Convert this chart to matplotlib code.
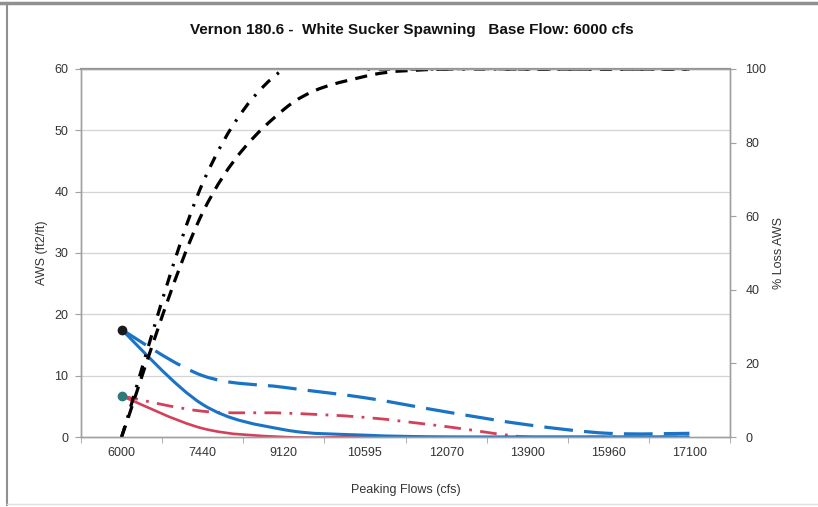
import matplotlib
matplotlib.use("Agg")
import matplotlib.pyplot as plt
from matplotlib.path import Path
from matplotlib.patches import PathPatch
from matplotlib.lines import Line2D

plt.rcParams['font.family'] = ['Liberation Sans', 'DejaVu Sans']

# Datos
flujos = ['6000', '7440', '9120', '10595', '12070', '13900', '15960', '17100']
aws_azul = [17.5, 5.3, 1.2, 0.3, 0.0, 0.0, 0.0, 0.0]
aws_azul_trazos = [17.5, 10.0, 8.1, 6.4, 4.1, 2.0, 0.6, 0.6]
aws_rojo = [6.7, 1.4, 0.0, 0.0, 0.0, 0.0, 0.0, 0.0]
aws_rojo_trazos = [6.7, 4.2, 3.9, 3.2, 1.7, 0.0, 0.0, 0.0]
perdida_trazos = [0, 61, 89, 98, 100, 100, 100, 100]
perdida_punto_raya = [0, 69, 100, 100, 100, 100, 100, 100]


def curva_suave(xs, ys):
    """Trayectoria Bezier suavizada (como la opción 'smooth line' de Excel)."""
    verts = [(xs[0], ys[0])]
    codes = [Path.MOVETO]
    n = len(xs)
    for i in range(n - 1):
        a = i - 1 if i > 0 else i
        d = i + 2 if i + 2 < n else i + 1
        c1 = (xs[i] + (xs[i + 1] - xs[a]) / 6, ys[i] + (ys[i + 1] - ys[a]) / 6)
        c2 = (xs[i + 1] - (xs[d] - xs[i]) / 6, ys[i + 1] - (ys[d] - ys[i]) / 6)
        verts += [c1, c2, (xs[i + 1], ys[i + 1])]
        codes += [Path.CURVE4] * 3
    return Path(verts, codes)


def dibujar(ax, ys, color, ls, lw=2.0):
    xs = list(range(len(ys)))
    patch = PathPatch(curva_suave(xs, ys), fill=False, edgecolor=color,
                      linewidth=lw, linestyle=ls, capstyle='butt')
    ax.add_patch(patch)


fig = plt.figure(figsize=(8.18, 5.07), dpi=100)
W, H = 818, 507
ax = fig.add_axes([81 / W, 1 - 437 / H, (730 - 81) / W, (437 - 69) / H])
ax2 = ax.twinx()

x = list(range(len(flujos)))
ax.set_xlim(-0.5, len(flujos) - 0.5)
ax.set_ylim(0, 60)
ax2.set_ylim(0, 100)

# rejilla horizontal
for v in range(10, 60, 10):
    ax.axhline(v, color='#d4d4d4', lw=0.9, zorder=0)

azul = '#1b73c6'
rojo = '#d2405a'
dibujar(ax, aws_azul_trazos, azul, (0, (9, 3.5)), 2.3)
dibujar(ax, aws_rojo_trazos, rojo, (0, (6, 3, 1, 3)), 2.0)
dibujar(ax, aws_rojo, rojo, '-', 1.9)
dibujar(ax, aws_azul, azul, '-', 2.2)
ax.plot([0], [aws_azul[0]], 'o', color='#1a1a1a', ms=6, zorder=5)
ax.plot([0], [aws_rojo[0]], 'o', color='#2f7a78', ms=6, zorder=5)

dibujar(ax2, perdida_trazos, 'black', (0, (3.8, 2.6)), 2.3)
dibujar(ax2, perdida_punto_raya, 'black', (0, (3.5, 2.8, 0.8, 2.8)), 2.3)

# ejes
for a in (ax, ax2):
    for s in a.spines.values():
        s.set_color('#a0a0a0')
        s.set_linewidth(1.0)
ax.spines['top'].set_color('#909090')
ax.spines['top'].set_linewidth(1.6)

ax.set_xticks(x)
ax.set_xticklabels(flujos)
ax.set_xticks([i + 0.5 for i in range(-1, len(flujos))], minor=True)
ax.tick_params(axis='x', which='major', length=0, pad=7, labelsize=9, labelcolor='#333333')
ax.tick_params(axis='x', which='minor', length=4, color='#a0a0a0')
ax.set_yticks(range(0, 61, 10))
ax.tick_params(axis='y', length=4, color='#a0a0a0', labelsize=9, labelcolor='#333333', pad=5)
ax2.set_yticks(range(0, 101, 20))
ax2.tick_params(axis='y', length=4, color='#a0a0a0', labelsize=9, labelcolor='#333333', pad=7)

ax.set_xlabel('Peaking Flows (cfs)', fontsize=9, color='#333333', labelpad=18)
ax.set_ylabel('AWS (ft2/ft)', fontsize=9, color='#333333', labelpad=5)
ax2.set_ylabel('% Loss AWS', fontsize=9, color='#333333', rotation=90, labelpad=5)

fig.text(412 / W, 1 - 30 / H, 'Vernon 180.6 -  White Sucker Spawning   Base Flow: 6000 cfs',
         ha='center', va='center', fontsize=11, fontweight='bold', color='#111111')

# marco exterior
fig.add_artist(Line2D([0, 1], [1 - 3 / H, 1 - 3 / H], color='#909090', lw=2.5))
fig.add_artist(Line2D([7 / W, 7 / W], [1 - 505 / H, 1 - 3 / H], color='#909090', lw=1.5))
fig.add_artist(Line2D([7 / W, 1], [1 - 504 / H, 1 - 504 / H], color='#e0e0e0', lw=1.0))

fig.savefig('out.png', dpi=100)
